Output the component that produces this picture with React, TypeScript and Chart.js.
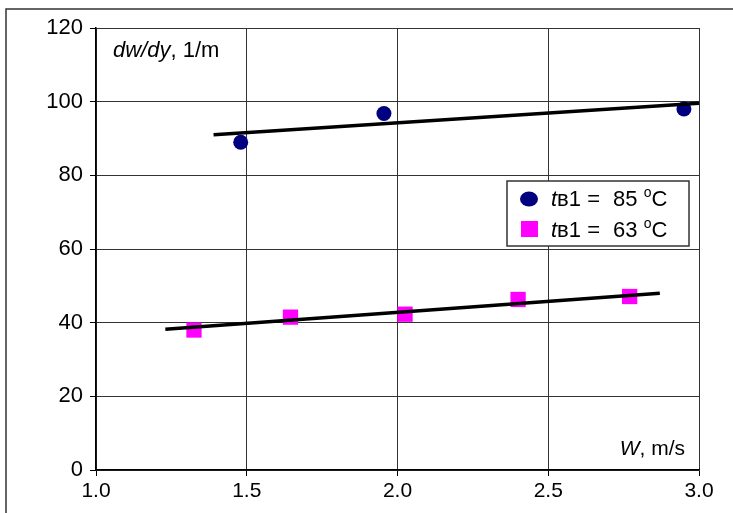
import React, { useEffect, useRef } from "react";
import { Chart, registerables } from "chart.js";

Chart.register(...registerables);

// Series 1: tв1 = 85 °C
const seriesHotW = [1.48, 1.955, 2.95];
const seriesHotY = [89, 96.8, 98];
const trendHotW = [1.39, 3.0];
const trendHotY = [91, 99.6];

// Series 2: tв1 = 63 °C
const seriesWarmW = [1.325, 1.645, 2.025, 2.4, 2.77];
const seriesWarmY = [38, 41.5, 42.3, 46.3, 47.1];
const trendWarmW = [1.23, 2.87];
const trendWarmY = [38.2, 48];

const xTicks = [1.0, 1.5, 2.0, 2.5, 3.0];
const yTicks = [0, 20, 40, 60, 80, 100, 120];

const legendLabels = ["85", "63"];
const yTitleItalic = "dw/dy";
const yTitleRest = ", 1/m";
const xTitleItalic = "W";
const xTitleRest = ", m/s";

const FONT = "'Liberation Sans', Arial, sans-serif";

const toPts = (xs: number[], ys: number[]) => xs.map((x, i) => ({ x, y: ys[i] }));

const decorPlugin = {
  id: "decor",
  beforeDraw(chart: any) {
    const ctx = chart.ctx;
    ctx.save();
    ctx.fillStyle = "#fff";
    ctx.fillRect(0, 0, chart.width, chart.height);
    ctx.strokeStyle = "#333";
    ctx.lineWidth = 1.5;
    ctx.beginPath();
    ctx.moveTo(6, chart.height);
    ctx.lineTo(6, 9);
    ctx.lineTo(chart.width, 9);
    ctx.stroke();
    ctx.restore();
  },
  afterDraw(chart: any) {
    const ctx = chart.ctx;
    const xs = chart.scales.x;
    const ys = chart.scales.y;
    ctx.save();
    ctx.fillStyle = "#000";
    ctx.textBaseline = "alphabetic";
    ctx.textAlign = "left";
    // y title
    let x0 = xs.left + 17;
    const yb = ys.top + 29;
    ctx.font = `italic 22px ${FONT}`;
    ctx.fillText(yTitleItalic, x0, yb);
    x0 += ctx.measureText(yTitleItalic).width;
    ctx.font = `22px ${FONT}`;
    ctx.fillText(yTitleRest, x0, yb);
    // x title (right aligned)
    ctx.font = `21px ${FONT}`;
    const wRest = ctx.measureText(xTitleRest).width;
    ctx.font = `italic 21px ${FONT}`;
    const wIt = ctx.measureText(xTitleItalic).width;
    const xr = xs.right - 14;
    const xb = ys.bottom - 15;
    ctx.fillText(xTitleItalic, xr - wRest - wIt, xb);
    ctx.font = `21px ${FONT}`;
    ctx.fillText(xTitleRest, xr - wRest, xb);

    // legend
    const lx = 507, ly = 181, lw = 182, lh = 65;
    ctx.fillStyle = "#fff";
    ctx.fillRect(lx, ly, lw, lh);
    ctx.strokeStyle = "#333";
    ctx.lineWidth = 1.5;
    ctx.strokeRect(lx, ly, lw, lh);
    // markers
    ctx.fillStyle = "#000080";
    ctx.beginPath();
    ctx.ellipse(529, 199, 9, 7.5, 0, 0, Math.PI * 2);
    ctx.fill();
    ctx.fillStyle = "#ff00ff";
    ctx.fillRect(521, 221, 17, 16);
    const rows = [206, 237];
    legendLabels.forEach((v, i) => {
      let tx = 551;
      ctx.fillStyle = "#000";
      ctx.font = `italic 22px ${FONT}`;
      ctx.fillText("t", tx, rows[i]);
      tx += ctx.measureText("t").width;
      ctx.font = `22px ${FONT}`;
      const s1 = "в1 = ";
      ctx.fillText(s1, tx, rows[i]);
      tx += ctx.measureText(s1).width + 7;
      const s2 = v + " ";
      ctx.fillText(s2, tx, rows[i]);
      tx += ctx.measureText(s2).width;
      ctx.font = `14px ${FONT}`;
      ctx.fillText("o", tx, rows[i] - 9);
      tx += ctx.measureText("o").width;
      ctx.font = `22px ${FONT}`;
      ctx.fillText("C", tx, rows[i]);
    });
    ctx.restore();
  },
};

export default function App() {
  const ref = useRef<HTMLCanvasElement | null>(null);
  useEffect(() => {
    if (!ref.current) return;
    const chart = new Chart(ref.current, {
      type: "scatter",
      data: {
        datasets: [
          {
            type: "line",
            data: toPts(trendHotW, trendHotY),
            borderColor: "#000",
            borderWidth: 3.5,
            pointRadius: 0,
            fill: false,
            order: 0,
          },
          {
            type: "line",
            data: toPts(trendWarmW, trendWarmY),
            borderColor: "#000",
            borderWidth: 3.5,
            pointRadius: 0,
            fill: false,
            order: 0,
          },
          {
            data: toPts(seriesHotW, seriesHotY),
            backgroundColor: "#000080",
            borderColor: "#000080",
            pointStyle: "circle",
            pointRadius: 7.5,
            borderWidth: 0,
            order: 1,
          },
          {
            data: toPts(seriesWarmW, seriesWarmY),
            backgroundColor: "#ff00ff",
            borderColor: "#ff00ff",
            pointStyle: "rect",
            pointRadius: 10.8,
            borderWidth: 0,
            order: 1,
          },
        ],
      } as any,
      options: {
        animation: false,
        responsive: false,
        maintainAspectRatio: false,
        layout: { padding: { left: 0, right: 34, top: 28, bottom: 0 } },
        plugins: { legend: { display: false }, tooltip: { enabled: false } },
        scales: {
          x: {
            type: "linear",
            min: 1,
            max: 3,
            afterBuildTicks: (s: any) => {
              s.ticks = xTicks.map((v) => ({ value: v }));
            },
            afterFit: (s: any) => {
              s.height = 43;
            },
            ticks: {
              color: "#000",
              font: { family: FONT, size: 21 },
              padding: 3,
              maxRotation: 0,
              callback: (v: any) => Number(v).toFixed(1),
            },
            grid: { color: "#333", lineWidth: 1, tickLength: 6, tickColor: "#000" },
            border: { color: "#000", width: 1.5 },
          },
          y: {
            type: "linear",
            min: 0,
            max: 120,
            afterBuildTicks: (s: any) => {
              s.ticks = yTicks.map((v) => ({ value: v }));
            },
            afterFit: (s: any) => {
              s.width = 96;
            },
            ticks: {
              color: "#000",
              font: { family: FONT, size: 22 },
              padding: 7,
            },
            grid: { color: "#333", lineWidth: 1, tickLength: 6, tickColor: "#000" },
            border: { color: "#000", width: 1.5 },
          },
        },
      },
      plugins: [decorPlugin],
    } as any);
    return () => chart.destroy();
  }, []);
  return (
    <div style={{ position: "fixed", left: 0, top: 0, width: 733, height: 513 }}>
      <canvas ref={ref} width={733} height={513} style={{ width: 733, height: 513 }} />
    </div>
  );
}
